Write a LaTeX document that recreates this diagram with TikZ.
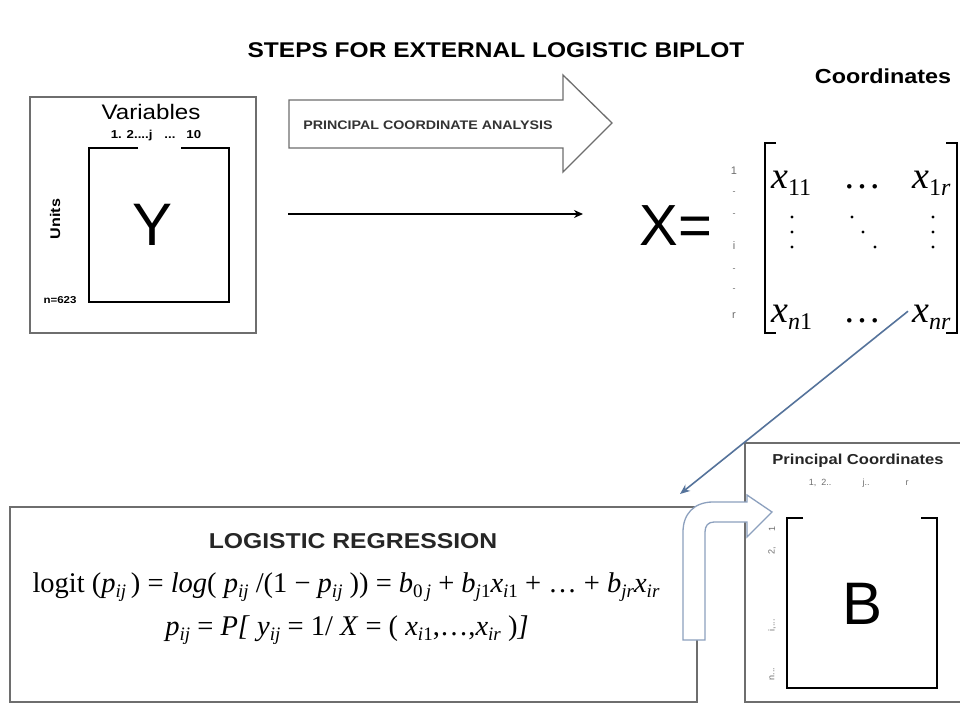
\documentclass[tikz,border=0pt]{standalone}
\usepackage{fontspec}
\setmainfont{Liberation Sans}
\newfontfamily\wide[FakeStretch=1.15]{Liberation Sans}
\newfontfamily\tm{Liberation Serif}
\usetikzlibrary{arrows.meta}
\newcommand\lo[2]{\raisebox{-0.45ex}{\fontsize{#1}{#1}\selectfont #2}}
\definecolor{boxgray}{RGB}{110,110,110}
\definecolor{steel}{RGB}{85,115,155}
\definecolor{paleblue}{RGB}{140,160,190}
\definecolor{labgray}{RGB}{110,110,110}
\tikzset{
  frame/.style={draw=boxgray, line width=1.4pt},
  brk/.style={draw=black, line width=2.4pt},
  hd/.style={font=\wide\bfseries, inner sep=0pt},
  tiny/.style={font=\fontsize{9}{9}\selectfont, text=labgray, inner sep=0pt},
  fml/.style={font=\tm\fontsize{28.5}{28.5}\selectfont, inner sep=0pt, anchor=base},
  mx/.style={font=\tm\itshape\fontsize{38}{38}\selectfont, inner sep=0pt},
}
\begin{document}
\begin{tikzpicture}[x=1pt,y=-1pt]
\useasboundingbox (0,0) rectangle (960,704);
\clip (0,0) rectangle (960,704);
\fill[white] (0,0) rectangle (960,704);

% title
\node[hd, font=\wide\bfseries\fontsize{21.3}{21.3}\selectfont] (title) at (496,50) {STEPS FOR EXTERNAL LOGISTIC BIPLOT};

% Y box
\draw[frame] (30,97) rectangle (256,333);
\node[inner sep=0pt, font=\wide\fontsize{21}{21}\selectfont] (vars) at (151,112) {Variables};
\node[hd, font=\wide\bfseries\fontsize{11.5}{11.5}\selectfont] (vidx) at (156,136) {1. 2....j\hspace{12pt}...\hspace{11pt}10};
\draw[brk] (138,148) -- (89,148) -- (89,302) -- (229,302) -- (229,148) -- (181,148);
\node[inner sep=0pt, font=\fontsize{60}{60}\selectfont] (Y) at (153,225) {Y};
\node[hd, rotate=90, font=\wide\bfseries\fontsize{14}{14}\selectfont] (units) at (55,219) {Units};
\node[hd, font=\wide\bfseries\fontsize{10}{10}\selectfont] (n) at (60,300) {n=623};

% big block arrow
\draw[draw=labgray, line width=1.3pt, fill=white]
  (289,100) -- (563,100) -- (563,75) -- (612,123) -- (563,172) -- (563,148) -- (289,148) -- cycle;
\node[hd, font=\wide\bfseries\fontsize{12.4}{12.4}\selectfont, text=black!80] (pca) at (428,125) {PRINCIPAL COORDINATE ANALYSIS};

% thin arrow
\coordinate (ta) at (288,214);
\coordinate (tb) at (583,214);
\draw[line width=1.8pt, -{Stealth[length=9pt,width=8pt]}] (ta) -- (tb);

% Coordinates
\node[hd, font=\wide\bfseries\fontsize{20.3}{20.3}\selectfont] (coord) at (883,76) {Coordinates};

% X =
\node[inner sep=0pt, font=\fontsize{58}{58}\selectfont] (Xeq) at (676,226) {X=};

% row labels
\node[tiny, font=\fontsize{11}{11}\selectfont] (r1) at (734,171) {1};
\node[tiny] (t1) at (734,193) {-};
\node[tiny] (t2) at (734,215) {-};
\node[tiny, font=\fontsize{11}{11}\selectfont] (ri) at (734,246) {i};
\node[tiny] (t3) at (734,270) {-};
\node[tiny] (t4) at (734,290) {-};
\node[tiny, font=\fontsize{11}{11}\selectfont] (rr) at (734,316) {r};

% matrix brackets
\draw[line width=1.8pt] (776,143) -- (765,143) -- (765,333) -- (776,333);
\draw[line width=1.8pt] (946,143) -- (957,143) -- (957,333) -- (946,333);

% matrix entries
\node[mx, anchor=base west] (x11) at (771,188) {x\lo{24}{\upshape 11}};
\node[mx, anchor=base] (d1) at (862,188) {\upshape …};
\node[mx, anchor=base west] (x1r) at (912,188) {x\lo{24}{\upshape 1\itshape r}};
\node[mx, anchor=base west] (xn1) at (771,322) {x\lo{24}{\itshape n\upshape 1}};
\node[mx, anchor=base] (d2) at (862,322) {\upshape …};
\node[mx, anchor=base west] (xnr) at (912,322) {x\lo{24}{\itshape nr}};
\foreach \yy in {217,232,247}{\fill (792,\yy) circle[radius=1.6pt]; \fill (933,\yy) circle[radius=1.6pt];}
\fill (852,217) circle[radius=1.6pt];
\fill (863,232) circle[radius=1.6pt];
\fill (875,247) circle[radius=1.6pt];

% logistic regression box
\draw[frame] (10,507) rectangle (697,702);
\node[hd, font=\wide\bfseries\fontsize{21.5}{21.5}\selectfont, text=black!85] (lr) at (353,541) {LOGISTIC REGRESSION};
\node[fml] (f1) at (346,592) {logit (\textit{p}\lo{19}{\textit{ij}}\,) = \textit{log}( \textit{p}\lo{19}{\textit{ij}} /(1 − \textit{p}\lo{19}{\textit{ij}} )) = \textit{b}\lo{19}{0\,\textit{j}} + \textit{b}\lo{19}{\textit{j}1}\textit{x}\lo{19}{\textit{i}1} + … + \textit{b}\lo{19}{\textit{jr}}\textit{x}\lo{19}{\textit{ir}}};
\node[fml] (f2) at (347,635) {\textit{p}\lo{19}{\textit{ij}} = \textit{P[} \textit{y}\lo{19}{\textit{ij}} = 1/ \textit{X} = ( \textit{x}\lo{19}{\textit{i}1},…,\textit{x}\lo{19}{\textit{ir}} )\textit{]}};

% principal coordinates box
\draw[frame] (970,443) -- (745,443) -- (745,702) -- (970,702);
\node[hd, font=\wide\bfseries\fontsize{14.4}{14.4}\selectfont, text=black!85] (pc) at (858,461) {Principal Coordinates};
\node[tiny] (c12) at (820,483) {1, \ 2..};
\node[tiny] (cj) at (866,483) {j..};
\node[tiny] (cr) at (907,483) {r};
\draw[brk] (803,518) -- (787,518) -- (787,688) -- (937,688) -- (937,518) -- (921,518);
\node[inner sep=0pt, font=\fontsize{60}{60}\selectfont] (B) at (862,604) {B};
\node[tiny, rotate=90] (b1) at (772,529) {1};
\node[tiny, rotate=90] (b2) at (772,551) {2,};
\node[tiny, rotate=90] (bi) at (772,625) {i,...};
\node[tiny, rotate=90] (bn) at (772,674) {n...};

% curved block arrow
\draw[draw=paleblue, line width=1.3pt, fill=white]
  (683,640) -- (683,532) .. controls (683,514) and (694,502) .. (713,502) -- (747,502) -- (747,495) -- (772,512) -- (747,537) -- (747,522) -- (714,522) .. controls (708,522) and (705,526) .. (705,532) -- (705,640) -- cycle;

% blue arrow from X to regression
\coordinate (bend) at (680,494);
\draw[steel, line width=1.6pt, -{Stealth[length=10pt,width=8pt]}] (xnr.west) ++(-4,-6) -- (bend);
\end{tikzpicture}
\end{document}
